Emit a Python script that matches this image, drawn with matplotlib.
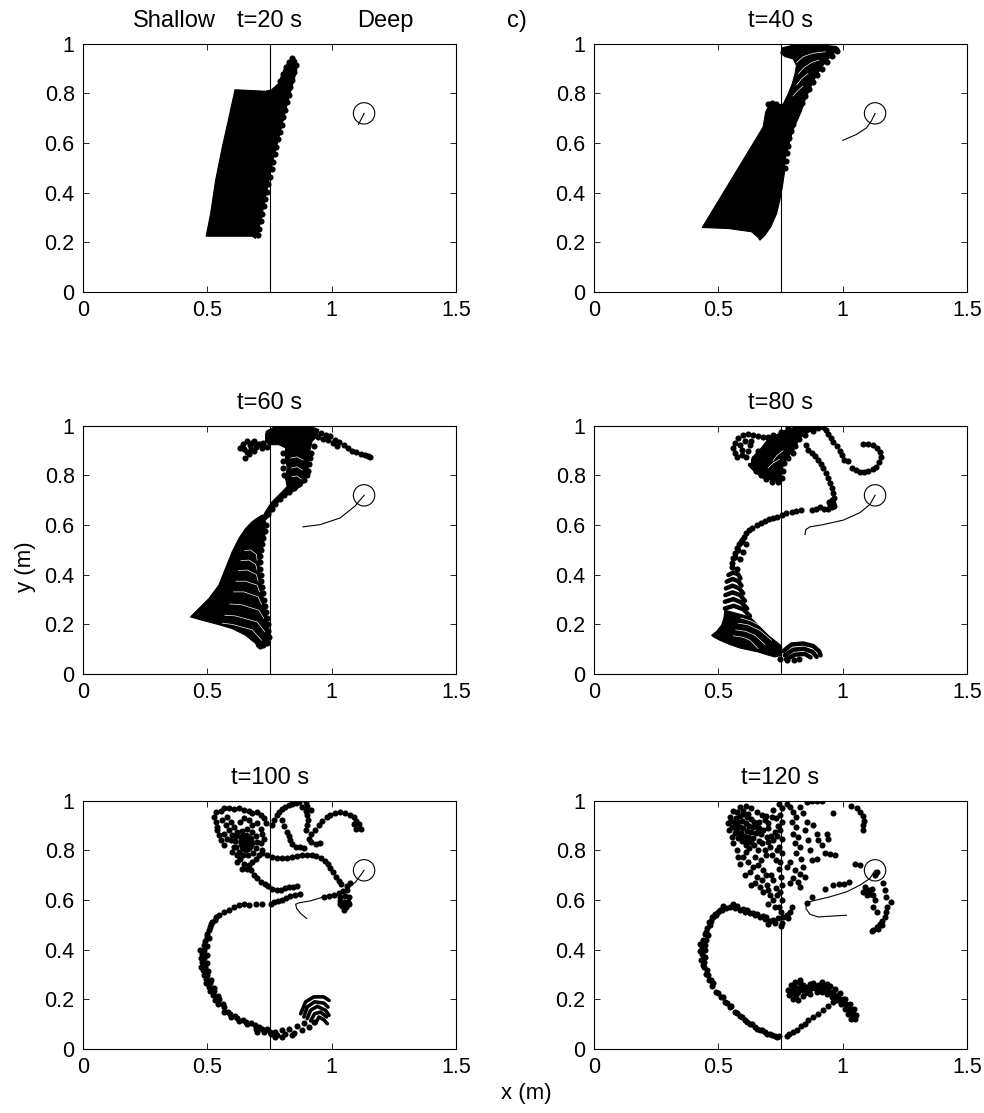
import matplotlib
matplotlib.use("Agg")
import matplotlib.pyplot as plt
from matplotlib.patches import Circle

plt.rcParams['font.family'] = ['Liberation Sans', 'DejaVu Sans']

# ---------------- common data ----------------
X_TICKS = [0, 0.5, 1, 1.5]
X_TICKLABELS = ['0', '0.5', '1', '1.5']
Y_TICKS = [0, 0.2, 0.4, 0.6, 0.8, 1.0]
Y_TICKLABELS = ['0', '0.2', '0.4', '0.6', '0.8', '1']
TITLES = ['t=20 s', 't=40 s', 't=60 s', 't=80 s', 't=100 s', 't=120 s']
DEPTH_BREAK_X = 0.75
CYL_CENTER = (1.13, 0.72)
CYL_RADIUS = 0.043

# ---------------- t = 20 s ----------------
T20_BLOCK = [(0.495, 0.225), (0.513, 0.316), (0.533, 0.450), (0.560, 0.584), (0.587, 0.705),
             (0.611, 0.815), (0.734, 0.809), (0.758, 0.815), (0.785, 0.839), (0.798, 0.872),
             (0.812, 0.906), (0.828, 0.930), (0.848, 0.943), (0.859, 0.933), (0.859, 0.892),
             (0.846, 0.846), (0.828, 0.785), (0.808, 0.705), (0.788, 0.624), (0.767, 0.544),
             (0.750, 0.464), (0.734, 0.383), (0.718, 0.303), (0.704, 0.239), (0.694, 0.216),
             (0.680, 0.225)]
T20_EDGE = [(0.855, 0.915), (0.849, 0.885), (0.842, 0.855), (0.834, 0.825), (0.827, 0.795),
            (0.820, 0.765), (0.813, 0.735), (0.806, 0.705), (0.798, 0.675), (0.791, 0.645),
            (0.784, 0.615), (0.777, 0.585), (0.771, 0.555), (0.764, 0.525), (0.758, 0.495),
            (0.752, 0.465), (0.745, 0.435), (0.739, 0.405), (0.733, 0.375), (0.727, 0.345),
            (0.720, 0.315), (0.714, 0.285), (0.708, 0.255), (0.702, 0.230), (0.793, 0.850),
            (0.803, 0.878), (0.815, 0.905), (0.828, 0.928), (0.842, 0.945)]
T20_PATH = [(1.13, 0.72), (1.108, 0.676)]

# ---------------- t = 40 s ----------------
T40_BLOCK = [(0.435, 0.260), (0.540, 0.256), (0.633, 0.243), (0.660, 0.220), (0.667, 0.209),
             (0.687, 0.229), (0.711, 0.263), (0.734, 0.316), (0.747, 0.370), (0.757, 0.423),
             (0.765, 0.477), (0.767, 0.544), (0.765, 0.611), (0.757, 0.665), (0.751, 0.732),
             (0.734, 0.750), (0.714, 0.755), (0.700, 0.745), (0.690, 0.725), (0.680, 0.665)]
T40_CHAIN = [(0.734, 0.752), (0.761, 0.758), (0.781, 0.799), (0.797, 0.839), (0.808, 0.879),
             (0.814, 0.913), (0.801, 0.939), (0.767, 0.949), (0.751, 0.962), (0.757, 0.984),
             (0.794, 0.993), (0.861, 0.994), (0.928, 0.994), (0.975, 0.989), (0.985, 0.980),
             (0.968, 0.966), (0.942, 0.939), (0.915, 0.906), (0.891, 0.866), (0.868, 0.819),
             (0.848, 0.772), (0.832, 0.725), (0.814, 0.685), (0.797, 0.645), (0.788, 0.611),
             (0.778, 0.571), (0.767, 0.531), (0.757, 0.611), (0.751, 0.678)]
T40_GAPS = [
    [(0.815, 0.925), (0.840, 0.948), (0.880, 0.962), (0.930, 0.968)],
    [(0.822, 0.880), (0.845, 0.905), (0.875, 0.925), (0.905, 0.935)],
    [(0.815, 0.835), (0.835, 0.860), (0.860, 0.880)],
    [(0.800, 0.790), (0.820, 0.812), (0.840, 0.830)],
]
T40_EDGE = [(0.975, 0.972), (0.955, 0.950), (0.935, 0.925), (0.915, 0.900), (0.897, 0.873),
            (0.880, 0.846), (0.864, 0.818), (0.849, 0.790), (0.835, 0.762), (0.822, 0.734),
            (0.810, 0.706), (0.800, 0.678), (0.792, 0.650), (0.785, 0.620), (0.779, 0.590),
            (0.774, 0.560), (0.770, 0.530), (0.766, 0.500), (0.700, 0.758), (0.716, 0.762),
            (0.732, 0.756)]
T40_PATH = [(1.0, 0.611), (1.055, 0.635), (1.095, 0.661), (1.115, 0.689), (1.13, 0.72)]

# ---------------- t = 60 s ----------------
T60_WEDGE = [(0.432, 0.230), (0.466, 0.264), (0.506, 0.304), (0.546, 0.358), (0.573, 0.426),
             (0.600, 0.493), (0.627, 0.547), (0.654, 0.587), (0.680, 0.614), (0.700, 0.628),
             (0.721, 0.641), (0.734, 0.614), (0.731, 0.560), (0.721, 0.506), (0.714, 0.479),
             (0.707, 0.426), (0.714, 0.372), (0.723, 0.318), (0.731, 0.264), (0.741, 0.210),
             (0.750, 0.170), (0.747, 0.129), (0.727, 0.113), (0.700, 0.109), (0.694, 0.123),
             (0.654, 0.156), (0.600, 0.183), (0.546, 0.199), (0.493, 0.213)]
T60_TOP = [(0.737, 0.978), (0.774, 0.998), (0.841, 1.0), (0.908, 1.0), (0.948, 0.985),
           (0.942, 0.958), (0.921, 0.938), (0.915, 0.911), (0.908, 0.884), (0.905, 0.830),
           (0.897, 0.789), (0.881, 0.762), (0.855, 0.742), (0.828, 0.725), (0.808, 0.715),
           (0.788, 0.695), (0.771, 0.675), (0.758, 0.655), (0.747, 0.634), (0.734, 0.621),
           (0.723, 0.634), (0.734, 0.655), (0.747, 0.675), (0.761, 0.695), (0.781, 0.715),
           (0.801, 0.735), (0.821, 0.756), (0.814, 0.789), (0.821, 0.830), (0.814, 0.870),
           (0.814, 0.911), (0.788, 0.924), (0.747, 0.924), (0.734, 0.938), (0.734, 0.965)]
T60_GAPS = [
    [(0.650, 0.497), (0.674, 0.500), (0.697, 0.482), (0.700, 0.459)],
    [(0.635, 0.457), (0.667, 0.459), (0.694, 0.442), (0.700, 0.419)],
    [(0.625, 0.417), (0.660, 0.419), (0.697, 0.401), (0.704, 0.374)],
    [(0.615, 0.374), (0.654, 0.374), (0.700, 0.358), (0.710, 0.331)],
    [(0.605, 0.331), (0.647, 0.331), (0.704, 0.311), (0.718, 0.280)],
    [(0.590, 0.282), (0.634, 0.280), (0.707, 0.257), (0.727, 0.224)],
    [(0.570, 0.237), (0.613, 0.234), (0.700, 0.210), (0.731, 0.170)],
    [(0.560, 0.205), (0.600, 0.200), (0.680, 0.178), (0.718, 0.136)],
    [(0.835, 0.870), (0.860, 0.875), (0.885, 0.862)],
    [(0.838, 0.830), (0.860, 0.835), (0.882, 0.822)],
    [(0.840, 0.795), (0.860, 0.798), (0.878, 0.785)],
]
T60_DOTS = [(0.633, 0.912), (0.646, 0.906), (0.653, 0.872), (0.660, 0.939), (0.666, 0.885),
            (0.673, 0.922), (0.686, 0.899), (0.689, 0.939), (0.702, 0.926), (0.720, 0.912),
            (0.740, 0.916), (0.645, 0.925), (0.675, 0.905), (0.695, 0.915), (0.710, 0.925),
            (0.725, 0.930), (0.660, 0.895), (0.680, 0.930),
            (0.955, 0.971), (0.975, 0.964), (0.995, 0.958), (1.015, 0.944), (1.031, 0.935),
            (1.049, 0.924), (1.066, 0.911), (1.082, 0.900), (1.098, 0.893), (1.116, 0.888),
            (1.132, 0.882), (1.145, 0.878), (1.152, 0.874), (0.945, 0.955), (0.965, 0.948),
            (0.985, 0.942), (1.005, 0.930), (1.022, 0.920),
            (0.745, 0.645), (0.758, 0.665), (0.772, 0.685), (0.790, 0.705), (0.810, 0.722),
            (0.830, 0.735), (0.850, 0.750), (0.870, 0.765), (0.890, 0.780), (0.900, 0.800),
            (0.905, 0.820), (0.910, 0.845), (0.912, 0.870), (0.918, 0.890), (0.930, 0.920),
            (0.808, 0.800), (0.805, 0.830), (0.806, 0.860), (0.805, 0.890),
            (0.735, 0.600), (0.730, 0.575), (0.725, 0.550), (0.720, 0.525), (0.715, 0.500),
            (0.712, 0.475), (0.710, 0.450), (0.712, 0.425), (0.715, 0.400), (0.717, 0.375),
            (0.720, 0.350), (0.723, 0.325), (0.727, 0.300), (0.730, 0.275), (0.734, 0.250),
            (0.738, 0.225), (0.742, 0.200), (0.745, 0.175), (0.746, 0.150), (0.740, 0.125),
            (0.725, 0.115), (0.710, 0.112)]
T60_PATH = [(0.884, 0.593), (0.954, 0.602), (1.034, 0.629), (1.094, 0.677), (1.13, 0.72)]

# ---------------- t = 80 s ----------------
T80_BLOB = [(0.667, 0.904), (0.694, 0.938), (0.734, 0.964), (0.774, 0.985), (0.828, 0.998),
            (0.868, 1.0), (0.895, 1.0), (0.888, 0.985), (0.855, 0.971), (0.828, 0.951),
            (0.814, 0.924), (0.801, 0.897), (0.774, 0.870), (0.761, 0.843), (0.754, 0.803),
            (0.741, 0.776), (0.714, 0.779), (0.687, 0.796), (0.660, 0.816), (0.637, 0.843),
            (0.633, 0.863), (0.647, 0.884)]
T80_FAN = [(0.473, 0.156), (0.493, 0.172), (0.513, 0.197), (0.522, 0.224), (0.526, 0.257),
           (0.627, 0.230), (0.654, 0.203), (0.680, 0.176), (0.707, 0.150), (0.734, 0.129),
           (0.754, 0.113), (0.754, 0.075), (0.727, 0.069), (0.694, 0.078), (0.660, 0.089),
           (0.627, 0.096), (0.586, 0.105), (0.546, 0.119), (0.506, 0.136), (0.480, 0.150)]
T80_STROKES = [
    [(0.540, 0.399), (0.560, 0.409), (0.580, 0.401), (0.589, 0.385)],
    [(0.533, 0.372), (0.557, 0.383), (0.580, 0.374), (0.593, 0.356)],
    [(0.530, 0.345), (0.557, 0.356), (0.584, 0.345), (0.600, 0.325)],
    [(0.528, 0.318), (0.557, 0.329), (0.587, 0.318), (0.607, 0.295)],
    [(0.526, 0.291), (0.560, 0.302), (0.593, 0.288), (0.616, 0.264)],
    [(0.526, 0.264), (0.562, 0.275), (0.600, 0.261), (0.627, 0.234)],
    [(0.761, 0.092), (0.794, 0.119), (0.841, 0.123), (0.881, 0.113), (0.905, 0.092), (0.911, 0.075)],
    [(0.767, 0.075), (0.801, 0.098), (0.844, 0.102), (0.879, 0.089), (0.895, 0.069)],
    [(0.771, 0.059), (0.808, 0.078), (0.848, 0.081), (0.871, 0.067)],
    [(0.640, 0.857), (0.667, 0.830), (0.694, 0.816)],
    [(0.627, 0.843), (0.654, 0.816), (0.687, 0.792)],
]
T80_GAPS = [
    [(0.560, 0.154), (0.600, 0.148), (0.627, 0.136), (0.660, 0.102)],
    [(0.570, 0.178), (0.610, 0.172), (0.647, 0.156), (0.687, 0.119)],
    [(0.580, 0.205), (0.620, 0.198), (0.667, 0.176), (0.714, 0.136)],
    [(0.590, 0.226), (0.630, 0.214), (0.680, 0.190), (0.727, 0.150)],
    [(0.720, 0.860), (0.735, 0.880), (0.760, 0.900)],
    [(0.700, 0.830), (0.720, 0.850), (0.745, 0.865)],
]
T80_DOTS = [(0.566, 0.890), (0.560, 0.911), (0.566, 0.931), (0.580, 0.951), (0.600, 0.962),
            (0.620, 0.967), (0.640, 0.962), (0.660, 0.958), (0.680, 0.954), (0.700, 0.954),
            (0.575, 0.876), (0.593, 0.884), (0.613, 0.873), (0.593, 0.904), (0.586, 0.924),
            (0.606, 0.938), (0.626, 0.924), (0.620, 0.897), (0.633, 0.938),
            (0.660, 0.900), (0.645, 0.870), (0.640, 0.845), (0.650, 0.820), (0.670, 0.800),
            (0.690, 0.785), (0.715, 0.775), (0.740, 0.772), (0.757, 0.790), (0.760, 0.820),
            (0.765, 0.850), (0.780, 0.870), (0.800, 0.890), (0.810, 0.920), (0.825, 0.945),
            (0.850, 0.965), (0.880, 0.980), (0.700, 0.950), (0.720, 0.965), (0.750, 0.975),
            (0.780, 0.990), (0.810, 0.995),
            (0.852, 0.924), (0.861, 0.904), (0.875, 0.890), (0.888, 0.877), (0.901, 0.863),
            (0.911, 0.846), (0.922, 0.830), (0.932, 0.810), (0.942, 0.789), (0.948, 0.769),
            (0.955, 0.749), (0.962, 0.729), (0.966, 0.709), (0.962, 0.688), (0.955, 0.671),
            (0.942, 0.665), (0.924, 0.665), (0.908, 0.671), (0.892, 0.665), (0.875, 0.661),
            (0.834, 0.661), (0.814, 0.657), (0.794, 0.652), (0.771, 0.647), (0.754, 0.641),
            (0.737, 0.633), (0.721, 0.628), (0.704, 0.624), (0.687, 0.617), (0.670, 0.610),
            (0.654, 0.601), (0.637, 0.590), (0.624, 0.581), (0.613, 0.567), (0.602, 0.554),
            (0.593, 0.540), (0.584, 0.523), (0.576, 0.506), (0.568, 0.486), (0.560, 0.466),
            (0.553, 0.446), (0.955, 0.700), (0.950, 0.680), (0.965, 0.675), (0.945, 0.695),
            (0.556, 0.430), (0.575, 0.425), (0.565, 0.470), (0.588, 0.462), (0.578, 0.500),
            (0.598, 0.493), (0.590, 0.530), (0.610, 0.522),
            (0.881, 0.989), (0.901, 0.991), (0.922, 0.994), (0.932, 0.985), (0.942, 0.967),
            (0.951, 0.951), (0.962, 0.935), (0.975, 0.917), (0.989, 0.900), (0.999, 0.884),
            (1.005, 0.863), (1.022, 0.857), (1.039, 0.832), (1.053, 0.823), (1.069, 0.816),
            (1.085, 0.816), (1.102, 0.819), (1.120, 0.827), (1.133, 0.836), (1.145, 0.854),
            (1.153, 0.873), (1.149, 0.894), (1.138, 0.911), (1.122, 0.921), (1.102, 0.927),
            (1.082, 0.927),
            (0.747, 0.059), (0.777, 0.055), (0.804, 0.058), (0.825, 0.059)]
T80_PATH = [(0.848, 0.562), (0.852, 0.582), (0.868, 0.593), (0.921, 0.602), (1.002, 0.620),
            (1.069, 0.650), (1.109, 0.683), (1.13, 0.72)]

# ---------------- t = 100 s ----------------
T100_STAR = [(0.630, 0.862), (0.660, 0.870), (0.685, 0.852), (0.690, 0.825), (0.677, 0.800),
             (0.655, 0.790), (0.636, 0.800), (0.626, 0.830)]
T100_C = [(0.754, 0.583), (0.721, 0.583), (0.694, 0.583), (0.667, 0.579), (0.647, 0.583),
          (0.627, 0.579), (0.607, 0.573), (0.587, 0.562), (0.566, 0.552), (0.546, 0.539),
          (0.529, 0.521), (0.516, 0.503), (0.506, 0.478), (0.497, 0.452), (0.486, 0.418),
          (0.479, 0.384), (0.479, 0.351), (0.483, 0.317), (0.493, 0.284), (0.506, 0.250),
          (0.524, 0.216), (0.542, 0.183), (0.566, 0.149), (0.593, 0.129), (0.627, 0.113),
          (0.660, 0.099), (0.694, 0.082), (0.727, 0.069), (0.754, 0.059), (0.781, 0.055),
          (0.814, 0.059), (0.848, 0.065), (0.881, 0.075), (0.908, 0.089), (0.928, 0.109)]
T100_C2 = [(0.506, 0.448), (0.499, 0.414), (0.497, 0.380), (0.499, 0.347), (0.503, 0.313),
           (0.513, 0.280), (0.526, 0.246), (0.544, 0.212), (0.562, 0.180), (0.584, 0.150),
           (0.612, 0.132), (0.643, 0.118), (0.676, 0.106), (0.708, 0.090), (0.738, 0.080),
           (0.770, 0.070), (0.800, 0.075), (0.830, 0.082), (0.860, 0.092), (0.890, 0.105),
           (0.535, 0.530), (0.520, 0.510), (0.510, 0.490), (0.500, 0.465), (0.492, 0.435),
           (0.488, 0.400), (0.487, 0.365), (0.490, 0.330), (0.497, 0.300), (0.510, 0.265),
           (0.525, 0.235), (0.545, 0.200), (0.565, 0.170), (0.590, 0.140), (0.620, 0.125),
           (0.655, 0.110), (0.690, 0.095), (0.720, 0.080), (0.750, 0.070), (0.472, 0.400),
           (0.474, 0.365), (0.476, 0.330), (0.485, 0.300), (0.495, 0.265), (0.512, 0.232),
           (0.532, 0.198), (0.700, 0.070), (0.770, 0.048), (0.800, 0.050), (0.840, 0.055)]
T100_HOOKS = [
    [(0.875, 0.142), (0.895, 0.190), (0.928, 0.210), (0.968, 0.210), (0.989, 0.196)],
    [(0.888, 0.129), (0.901, 0.169), (0.931, 0.190), (0.968, 0.185), (0.985, 0.169)],
    [(0.901, 0.122), (0.915, 0.156), (0.942, 0.172), (0.975, 0.156), (0.989, 0.136)],
    [(0.915, 0.113), (0.931, 0.142), (0.955, 0.149), (0.979, 0.129)],
    [(0.935, 0.102), (0.948, 0.129), (0.968, 0.118), (0.982, 0.102)],
]
T100_DOTS = [(0.533, 0.956), (0.553, 0.960), (0.566, 0.969), (0.587, 0.973), (0.607, 0.965),
             (0.627, 0.969), (0.647, 0.962), (0.667, 0.960), (0.680, 0.949), (0.700, 0.956),
             (0.714, 0.942), (0.727, 0.929), (0.734, 0.909), (0.526, 0.935), (0.533, 0.915),
             (0.540, 0.895), (0.537, 0.882), (0.546, 0.861), (0.553, 0.841), (0.566, 0.821),
             (0.560, 0.922), (0.580, 0.935), (0.593, 0.915), (0.573, 0.902), (0.566, 0.868),
             (0.587, 0.882), (0.600, 0.861), (0.607, 0.895), (0.633, 0.915), (0.647, 0.929),
             (0.667, 0.922), (0.680, 0.902), (0.700, 0.909), (0.714, 0.888), (0.721, 0.868),
             (0.727, 0.848), (0.714, 0.828), (0.721, 0.801), (0.707, 0.781), (0.694, 0.767),
             (0.680, 0.754), (0.667, 0.741), (0.674, 0.720), (0.687, 0.700), (0.700, 0.687),
             (0.714, 0.673), (0.730, 0.664), (0.743, 0.656), (0.593, 0.841), (0.607, 0.814),
             (0.600, 0.794), (0.620, 0.781), (0.633, 0.767), (0.647, 0.747), (0.660, 0.727),
             (0.580, 0.848), (0.620, 0.754), (0.640, 0.727),
             (0.620, 0.875), (0.640, 0.880), (0.660, 0.885), (0.680, 0.875), (0.695, 0.860),
             (0.700, 0.835), (0.695, 0.810), (0.685, 0.790), (0.665, 0.780), (0.645, 0.782),
             (0.628, 0.795), (0.615, 0.815), (0.612, 0.840), (0.617, 0.860), (0.650, 0.830),
             (0.758, 0.902), (0.767, 0.922), (0.778, 0.942), (0.788, 0.956), (0.801, 0.965),
             (0.814, 0.976), (0.828, 0.982), (0.841, 0.986), (0.855, 0.992), (0.868, 0.997),
             (0.895, 0.996), (0.901, 0.978), (0.895, 0.960), (0.901, 0.942), (0.904, 0.922),
             (0.899, 0.902), (0.895, 0.882), (0.881, 0.976), (0.915, 0.962),
             (0.821, 0.875), (0.828, 0.857), (0.834, 0.841), (0.841, 0.825), (0.855, 0.814),
             (0.872, 0.812), (0.888, 0.808), (0.801, 0.922), (0.810, 0.898),
             (0.908, 0.848), (0.917, 0.868), (0.931, 0.882), (0.917, 0.835), (0.935, 0.825),
             (0.952, 0.828),
             (0.948, 0.902), (0.962, 0.919), (0.979, 0.933), (0.995, 0.942), (1.015, 0.952),
             (1.035, 0.955), (1.055, 0.952), (1.072, 0.942), (1.089, 0.933), (1.099, 0.919),
             (1.109, 0.906), (1.116, 0.888), (1.099, 0.888), (1.089, 0.906),
             (0.721, 0.788), (0.741, 0.781), (0.761, 0.774), (0.781, 0.770), (0.801, 0.770),
             (0.821, 0.771), (0.841, 0.774), (0.861, 0.777), (0.881, 0.780), (0.901, 0.782),
             (0.921, 0.782), (0.938, 0.778), (0.955, 0.770), (0.971, 0.758), (0.985, 0.745),
             (0.995, 0.731), (1.006, 0.714), (1.019, 0.694), (1.029, 0.677), (1.038, 0.664),
             (0.761, 0.646), (0.778, 0.640), (0.794, 0.642), (0.812, 0.649), (0.829, 0.653),
             (0.845, 0.653), (0.861, 0.656),
             (0.767, 0.593), (0.784, 0.597), (0.801, 0.602), (0.818, 0.609), (0.834, 0.616),
             (0.851, 0.620), (0.871, 0.624), (0.968, 0.613), (0.988, 0.616), (1.009, 0.620),
             (1.029, 0.629), (1.046, 0.637), (1.062, 0.640), (1.035, 0.613), (1.052, 0.616),
             (1.069, 0.613), (1.032, 0.597), (1.049, 0.593), (1.065, 0.593), (1.042, 0.575),
             (1.059, 0.573), (1.049, 0.559), (1.035, 0.583), (1.069, 0.583), (1.062, 0.656),
             (1.072, 0.669)]
T100_PATH = [(0.899, 0.526), (0.875, 0.546), (0.859, 0.566), (0.855, 0.583), (0.868, 0.589),
             (0.915, 0.597), (0.968, 0.613), (1.022, 0.626), (1.062, 0.646), (1.096, 0.673),
             (1.116, 0.700), (1.13, 0.72)]

# ---------------- t = 120 s ----------------
T120_HEART = [(0.750, 0.495), (0.727, 0.508), (0.707, 0.516), (0.687, 0.524), (0.667, 0.530),
              (0.647, 0.538), (0.627, 0.546), (0.607, 0.552), (0.587, 0.562), (0.566, 0.570),
              (0.546, 0.573), (0.530, 0.570), (0.514, 0.562), (0.499, 0.552), (0.486, 0.543),
              (0.473, 0.530), (0.463, 0.512), (0.455, 0.489), (0.447, 0.465), (0.439, 0.438),
              (0.434, 0.411), (0.434, 0.384), (0.436, 0.358), (0.442, 0.331), (0.450, 0.304),
              (0.461, 0.277), (0.474, 0.253), (0.490, 0.230), (0.509, 0.210), (0.528, 0.190),
              (0.546, 0.169), (0.566, 0.149), (0.587, 0.132), (0.607, 0.116), (0.627, 0.102),
              (0.647, 0.089), (0.667, 0.078), (0.687, 0.069), (0.707, 0.059), (0.727, 0.054),
              (0.745, 0.051),
              (0.560, 0.585), (0.600, 0.565), (0.640, 0.548), (0.680, 0.535), (0.700, 0.505),
              (0.520, 0.575), (0.490, 0.540), (0.470, 0.515), (0.452, 0.470), (0.445, 0.420),
              (0.447, 0.370), (0.455, 0.320), (0.470, 0.280), (0.500, 0.225), (0.535, 0.185),
              (0.575, 0.145), (0.615, 0.110), (0.655, 0.082), (0.695, 0.062), (0.735, 0.048),
              (0.575, 0.575), (0.615, 0.560), (0.655, 0.545), (0.690, 0.530), (0.720, 0.520),
              (0.505, 0.560), (0.480, 0.530), (0.465, 0.500), (0.458, 0.460), (0.450, 0.440),
              (0.448, 0.400), (0.444, 0.350), (0.460, 0.300), (0.480, 0.265), (0.520, 0.210),
              (0.550, 0.175), (0.595, 0.130), (0.635, 0.100), (0.675, 0.075), (0.715, 0.058),
              (0.426, 0.425), (0.425, 0.395), (0.430, 0.360), (0.438, 0.340)]
T120_DOTS = [(0.587, 0.976), (0.613, 0.978), (0.633, 0.969), (0.654, 0.956), (0.674, 0.942),
             (0.687, 0.922), (0.700, 0.909), (0.714, 0.935), (0.721, 0.962),
             (0.546, 0.935), (0.540, 0.909), (0.544, 0.882), (0.553, 0.855), (0.560, 0.828),
             (0.573, 0.801), (0.580, 0.774), (0.587, 0.747),
             (0.680, 0.882), (0.694, 0.855), (0.674, 0.828), (0.687, 0.801), (0.707, 0.814),
             (0.721, 0.841), (0.727, 0.875), (0.714, 0.781), (0.660, 0.801), (0.647, 0.774),
             (0.613, 0.794), (0.600, 0.774), (0.620, 0.754), (0.640, 0.734), (0.627, 0.714),
             (0.654, 0.694), (0.674, 0.680), (0.694, 0.660), (0.667, 0.653), (0.647, 0.667),
             (0.680, 0.633), (0.707, 0.620), (0.721, 0.599), (0.701, 0.586), (0.727, 0.573),
             (0.607, 0.700), (0.633, 0.660),
             (0.560, 0.960), (0.575, 0.955), (0.600, 0.960), (0.620, 0.945), (0.550, 0.920),
             (0.555, 0.895), (0.565, 0.870), (0.585, 0.860), (0.610, 0.820), (0.625, 0.810),
             (0.645, 0.820), (0.665, 0.840), (0.670, 0.865), (0.665, 0.890), (0.665, 0.915),
             (0.690, 0.940), (0.700, 0.890), (0.710, 0.860), (0.700, 0.835), (0.690, 0.780),
             (0.670, 0.760), (0.660, 0.740), (0.680, 0.720), (0.690, 0.700), (0.710, 0.700),
             (0.720, 0.680), (0.730, 0.650), (0.735, 0.620), (0.700, 0.640), (0.730, 0.760),
             (0.735, 0.800), (0.735, 0.860), (0.740, 0.900), (0.730, 0.930),
             (0.570, 0.930), (0.585, 0.940), (0.600, 0.945), (0.615, 0.935), (0.630, 0.925),
             (0.645, 0.915), (0.580, 0.915), (0.595, 0.920), (0.610, 0.910), (0.625, 0.900),
             (0.640, 0.895), (0.570, 0.900), (0.585, 0.895), (0.600, 0.890), (0.615, 0.880),
             (0.630, 0.875), (0.650, 0.870), (0.575, 0.875), (0.590, 0.870), (0.605, 0.860),
             (0.620, 0.855), (0.640, 0.850), (0.580, 0.850), (0.595, 0.840), (0.610, 0.840),
             (0.630, 0.835), (0.565, 0.910), (0.655, 0.900), (0.660, 0.880), (0.570, 0.885),
             (0.745, 0.989), (0.755, 0.969), (0.747, 0.942), (0.755, 0.915), (0.747, 0.882),
             (0.754, 0.848), (0.745, 0.814), (0.754, 0.788), (0.747, 0.754), (0.745, 0.727),
             (0.750, 0.694), (0.755, 0.660), (0.747, 0.633), (0.754, 0.599), (0.745, 0.573),
             (0.750, 0.552), (0.761, 0.532), (0.741, 0.526), (0.754, 0.508),
             (0.774, 0.539), (0.788, 0.552), (0.794, 0.573), (0.781, 0.526),
             (0.774, 0.989), (0.788, 0.976), (0.801, 0.956), (0.812, 0.935), (0.794, 0.915),
             (0.814, 0.895), (0.801, 0.868), (0.821, 0.855), (0.808, 0.828), (0.828, 0.814),
             (0.814, 0.788), (0.834, 0.767), (0.788, 0.754), (0.774, 0.734), (0.808, 0.720),
             (0.828, 0.707), (0.801, 0.687), (0.788, 0.667), (0.821, 0.673), (0.841, 0.734),
             (0.850, 0.694), (0.828, 0.653), (0.868, 0.801), (0.861, 0.841), (0.847, 0.882),
             (0.855, 0.915), (0.841, 0.949), (0.828, 0.976), (0.855, 0.996), (0.875, 0.998),
             (0.895, 0.998), (0.915, 0.998), (0.881, 0.902), (0.895, 0.868), (0.901, 0.841),
             (0.915, 0.821), (0.875, 0.761), (0.895, 0.767), (0.928, 0.788), (0.948, 0.785),
             (0.968, 0.781), (0.962, 0.952), (0.935, 0.868), (0.942, 0.848),
             (1.035, 0.978), (1.056, 0.969), (1.069, 0.956), (1.080, 0.938), (1.085, 0.919),
             (1.082, 0.902), (1.080, 0.884),
             (0.855, 0.589), (0.875, 0.613), (0.928, 0.646), (0.962, 0.660), (0.986, 0.664),
             (1.005, 0.664), (1.026, 0.673), (1.049, 0.747), (1.069, 0.741),
             (1.129, 0.700), (1.136, 0.714), (1.089, 0.653), (1.102, 0.640), (1.116, 0.646),
             (1.109, 0.626), (1.123, 0.620), (1.096, 0.620), (1.082, 0.633), (1.129, 0.599),
             (1.123, 0.573), (1.136, 0.552), (1.163, 0.667), (1.170, 0.640), (1.176, 0.613),
             (1.196, 0.593), (1.180, 0.573), (1.176, 0.552), (1.170, 0.532), (1.159, 0.516),
             (1.149, 0.503), (1.136, 0.492), (1.123, 0.481), (1.116, 0.474), (1.143, 0.485),
             (1.156, 0.499),
             (0.828, 0.277), (0.808, 0.270), (0.790, 0.257), (0.781, 0.237), (0.785, 0.216),
             (0.801, 0.203), (0.821, 0.196),
             (0.801, 0.237), (0.821, 0.230), (0.841, 0.237), (0.861, 0.239), (0.881, 0.250),
             (0.901, 0.257), (0.922, 0.253), (0.942, 0.243), (0.962, 0.230), (0.982, 0.216),
             (1.002, 0.203), (1.015, 0.183), (1.029, 0.163), (1.042, 0.142), (1.049, 0.122),
             (0.814, 0.216), (0.841, 0.212), (0.868, 0.220), (0.895, 0.230), (0.915, 0.230),
             (0.935, 0.220), (0.955, 0.210), (0.975, 0.196), (0.995, 0.183), (1.009, 0.163),
             (1.022, 0.142), (1.035, 0.122),
             (0.841, 0.257), (0.868, 0.263), (0.915, 0.270), (0.935, 0.263),
             (0.795, 0.225), (0.810, 0.250), (0.830, 0.245), (0.850, 0.225), (0.870, 0.240),
             (0.890, 0.245), (0.905, 0.240), (0.925, 0.240), (0.945, 0.230), (0.965, 0.215),
             (0.985, 0.200), (1.000, 0.185), (1.020, 0.165), (1.030, 0.145), (1.040, 0.130),
             (0.830, 0.265), (0.855, 0.250), (0.880, 0.265), (0.950, 0.255), (0.970, 0.240),
             (0.990, 0.225), (1.010, 0.200), (1.030, 0.180), (1.045, 0.160), (1.055, 0.135),
             (0.962, 0.190), (0.942, 0.172), (0.922, 0.156), (0.901, 0.142), (0.881, 0.129),
             (0.861, 0.118), (0.848, 0.102), (0.834, 0.091), (0.817, 0.078), (0.801, 0.069),
             (0.785, 0.059), (0.774, 0.051)]
T120_PATH = [(1.015, 0.539), (0.948, 0.535), (0.901, 0.532), (0.868, 0.543), (0.852, 0.566),
             (0.855, 0.589), (0.881, 0.597), (0.948, 0.613), (1.015, 0.633), (1.069, 0.660),
             (1.109, 0.687), (1.13, 0.72)]

# ---------------- panels ----------------
PANELS = [
    dict(polys=[T20_BLOCK], strokes=[], gaps=[], dots=T20_EDGE, path=T20_PATH),
    dict(polys=[T40_BLOCK, T40_CHAIN], strokes=[], gaps=T40_GAPS, dots=T40_EDGE, path=T40_PATH),
    dict(polys=[T60_WEDGE, T60_TOP], strokes=[], gaps=T60_GAPS, dots=T60_DOTS, path=T60_PATH),
    dict(polys=[T80_BLOB, T80_FAN], strokes=T80_STROKES, gaps=T80_GAPS, dots=T80_DOTS, path=T80_PATH),
    dict(polys=[T100_STAR], strokes=T100_HOOKS, gaps=[],
         dots=T100_DOTS + T100_C + T100_C2, path=T100_PATH),
    dict(polys=[], strokes=[], gaps=[], dots=T120_DOTS + T120_HEART, path=T120_PATH),
]
STROKE_WIDTHS = [3.6, 3.6, 3.6, 3.2, 2.6, 3.0]

AX_LEFT = [0.0844, 0.6037]
AX_BOTTOM = [0.7376, 0.3944, 0.0575]
AX_W, AX_H = 0.3791, 0.2230


def xy(pairs):
    return [p[0] for p in pairs], [p[1] for p in pairs]


fig = plt.figure(figsize=(9.84, 11.13), dpi=100)

for i, (title, spec) in enumerate(zip(TITLES, PANELS)):
    r, c = divmod(i, 2)
    ax = fig.add_axes([AX_LEFT[c], AX_BOTTOM[r], AX_W, AX_H])
    for poly in spec['polys']:
        px, py = xy(poly)
        ax.fill(px, py, color='k', lw=0.8, zorder=2)
    for st in spec['strokes']:
        sx, sy = xy(st)
        ax.plot(sx, sy, color='k', lw=STROKE_WIDTHS[i], solid_capstyle='round',
                solid_joinstyle='round', zorder=2)
    for g in spec['gaps']:
        gx, gy = xy(g)
        ax.plot(gx, gy, color='w', lw=0.5, zorder=3)
    dx, dy = xy(spec['dots'])
    ax.plot(dx, dy, 'o', color='k', ms=4.4, mew=0, zorder=4)
    ax.plot([DEPTH_BREAK_X, DEPTH_BREAK_X], [0, 1], color='k', lw=0.8, zorder=1)
    tx, ty = xy(spec['path'])
    ax.plot(tx, ty, color='k', lw=0.8, zorder=5)
    ax.add_patch(Circle(CYL_CENTER, CYL_RADIUS, fill=False, ec='k', lw=0.8, zorder=5))

    ax.set_xlim(0, 1.5)
    ax.set_ylim(0, 1)
    ax.set_xticks(X_TICKS)
    ax.set_xticklabels(X_TICKLABELS)
    ax.set_yticks(Y_TICKS)
    ax.set_yticklabels(Y_TICKLABELS)
    ax.tick_params(direction='in', top=True, right=True, length=4, width=0.6,
                   labelsize=15.5, pad=6)
    for s in ax.spines.values():
        s.set_linewidth(0.8)
    ax.set_title(title, fontsize=17, pad=12)

fig.text(174 / 984, 1 - 27 / 1113, 'Shallow', fontsize=17, ha='center', va='baseline')
fig.text(385 / 984, 1 - 27 / 1113, 'Deep', fontsize=17, ha='center', va='baseline')
fig.text(507 / 984, 1 - 27 / 1113, 'c)', fontsize=17, ha='left', va='baseline')
fig.text(26 / 984, 1 - 567 / 1113, 'y (m)', fontsize=16, rotation=90, ha='center', va='center')
fig.text(526 / 984, 1 - 1094 / 1113, 'x (m)', fontsize=16, ha='center', va='center')

fig.savefig('out.png', dpi=100)
